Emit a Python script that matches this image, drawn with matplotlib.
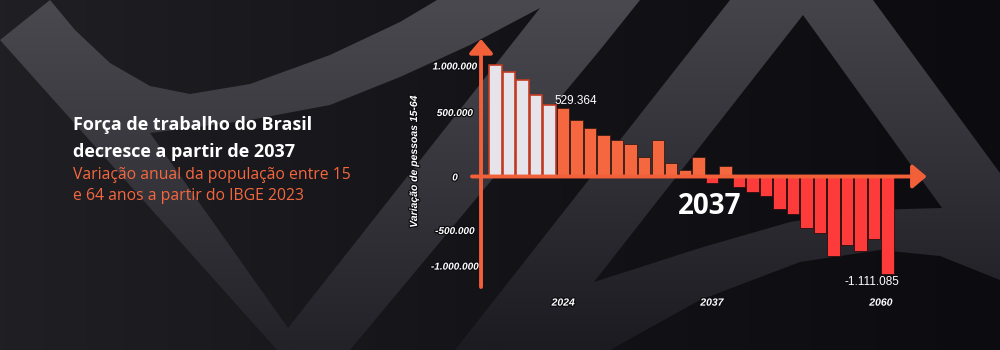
import numpy as np
import matplotlib
matplotlib.use('Agg')
import matplotlib.pyplot as plt
from matplotlib.path import Path
from matplotlib.patches import PathPatch
from matplotlib.colors import LinearSegmentedColormap
import matplotlib.patheffects as pe

# annual change of the 15-64 population (people), IBGE 2023 projection
n_hist = 5  # first bars are already observed (light bars)
values = [1010000, 923000, 842000, 677000, 570000,
          529364, 439000, 374000, 318000, 284000, 253000, 155000, 284000,
          103000, 52000, 155000, -63000, 81000,
          -98000, -145000, -182000, -308000, -346000, -477000, -549000,
          -872000, -711000, -788000, -626000, -1111085]
labelled = [5, 29]  # bars with their value written
tick_years = ['2024', '2037', '2060']
tick_at = [5, 16, 28.5]
yticks = [1000000, 500000, 0, -500000, -1000000]

title = ['Força de trabalho do Brasil', 'decresce a partir de 2037']
subtitle = ['Variação anual da população entre 15', 'e 64 anos a partir do IBGE 2023']
ylabel = 'Variação de pessoas 15-64'

ORANGE = '#f4673f'
RED = '#fe3b3b'
LIGHT = '#e6e3eb'
AXIS = '#f2603a'


def fmt(v):
    return f'{v:,}'.replace(',', '.')


fig = plt.figure(figsize=(10, 3.5), dpi=100)

# ---- background with the big faint logo shapes (pixel coords, y down)
bg = fig.add_axes([0, 0, 1, 1])
bg.set_xlim(0, 1000)
bg.set_ylim(350, 0)
bg.axis('off')
bg_cmap = LinearSegmentedColormap.from_list('bg', ['#201f24', '#141318', '#0b0b10'])
bg.imshow(np.linspace(0, 1, 256).reshape(1, -1), extent=(0, 1000, 350, 0),
          cmap=bg_cmap, aspect='auto', zorder=0)


def signed_area(pts):
    p = np.array(pts)
    return 0.5 * np.sum(p[:, 0] * np.roll(p[:, 1], -1) - np.roll(p[:, 0], -1) * p[:, 1])


def shape(outer, hole, top, bottom):
    if signed_area(outer) * signed_area(hole) > 0:
        hole = hole[::-1]
    verts, codes = [], []
    for ring in (outer, hole):
        verts += list(ring) + [ring[0]]
        codes += [Path.MOVETO] + [Path.LINETO] * (len(ring) - 1) + [Path.CLOSEPOLY]
    patch = PathPatch(Path(verts, codes), fc='none', ec='none', transform=bg.transData)
    bg.add_patch(patch)
    cm = LinearSegmentedColormap.from_list('s', [top, bottom])
    im = bg.imshow(np.linspace(0, 1, 256).reshape(-1, 1), extent=(0, 1000, 350, 0),
                   cmap=cm, aspect='auto', zorder=1)
    im.set_clip_path(patch)


v_outer = [(50, 0), (75, 30), (110, 63), (150, 86), (190, 94), (250, 84), (330, 55),
           (400, 22), (437, 0), (640, 0), (600, 50), (350, 350), (277, 350), (0, 40)]
v_hole = [(150, 133), (288, 328), (540, 8), (470, 45), (400, 77), (330, 105),
          (250, 120), (190, 128)]
shape(v_outer, v_hole, '#4b4950', '#232228')

a_outer = [(455, 350), (730, 0), (873, 0), (1000, 173), (1000, 280), (940, 256),
           (880, 250), (800, 262), (700, 300), (610, 350)]
a_hole = [(803, 15), (594, 282), (700, 248), (790, 222), (870, 210), (942, 208)]
shape(a_outer, a_hole, '#45444a', '#1c1b21')

# ---- titles
for line, base in zip(title, (130, 157)):
    fig.text(0.073, 1 - base / 350, line, color='white', fontsize=13,
             fontweight='bold', family='Open Sans', va='baseline')
for line, base in zip(subtitle, (179, 200)):
    fig.text(0.073, 1 - base / 350, line, color=ORANGE, fontsize=11.3,
             family='Open Sans', va='baseline')

# ---- chart
ax = fig.add_axes([0.472, 60 / 350, 0.458, 253 / 350])
ax.patch.set_alpha(0)
for s in ax.spines.values():
    s.set_visible(False)

# the infographic uses a compressed, uneven value axis
VK = [-5e6, -1111085, -500000, 0, 529364, 1000000, 5e6]
PK = [-373.8, -97, -53.5, 0, 68.3, 111, 473.9]
fwd = lambda v: np.interp(v, VK, PK)
inv = lambda p: np.interp(p, PK, VK)
ax.set_yscale('function', functions=(fwd, inv))
ax.set_ylim(inv(-113.5), inv(139.5))
ax.set_xlim(-1.738, 32.14)

x = np.arange(len(values))
colors, edges, lws = [], [], []
for i, v in enumerate(values):
    if i < n_hist:
        colors.append(LIGHT); edges.append('#c23b22'); lws.append(1.2)
    elif v >= 0:
        colors.append(ORANGE); edges.append('#3a1c14'); lws.append(0.6)
    else:
        colors.append(RED); edges.append('#2a0e0e'); lws.append(0.6)
ax.bar(x, values, width=0.92, color=colors, edgecolor=edges, linewidth=lws, zorder=2)

arrow = dict(arrowstyle='-|>,head_length=0.65,head_width=0.55', color=AXIS, lw=2.8,
             mutation_scale=13, shrinkA=0, shrinkB=0)
ax.annotate('', xy=(31.9, 0), xytext=(-1.74, 0), arrowprops=arrow,
            annotation_clip=False, zorder=3)
ax.annotate('', xy=(-1.07, inv(137.5)), xytext=(-1.07, inv(-110.5)), arrowprops=arrow,
            annotation_clip=False, zorder=3)

# value labels
i = labelled[0]
ax.annotate(fmt(values[i]), xy=(x[i] - 0.5, values[i]), xytext=(-1, 1),
            textcoords='offset points', ha='left', va='bottom', color='white',
            fontsize=8.5, family='Liberation Sans', zorder=5)
i = labelled[1]
ax.annotate(fmt(values[i]), xy=(x[i] + 0.5, values[i]), xytext=(4, -2),
            textcoords='offset points', ha='right', va='top', color='white',
            fontsize=8.5, family='Liberation Sans', zorder=5)

outline = [pe.withStroke(linewidth=1.8, foreground='#0e0d12')]
ax.set_yticks(yticks, [fmt(v) for v in yticks])
ax.minorticks_off()
ax.tick_params(axis='y', length=0, pad=12.2, labelcolor='white')
for t in ax.get_yticklabels():
    t.set_ha('center')
    t.set_fontsize(7.2)
    t.set_fontfamily('Liberation Sans')
    t.set_fontweight('bold')
    t.set_fontstyle('italic')
    t.set_path_effects(outline)
ax.set_xticks(tick_at, tick_years)
ax.tick_params(axis='x', length=0, pad=5.5, labelcolor='white')
for t in ax.get_xticklabels():
    t.set_fontsize(7.5)
    t.set_fontfamily('Liberation Sans')
    t.set_fontweight('bold')
    t.set_fontstyle('italic')
    t.set_path_effects(outline)

fig.text(0.414, 1 - 162 / 350, ylabel, rotation=90, ha='center', va='center',
         color='white', fontsize=7.5, family='Liberation Sans', fontweight='bold',
         fontstyle='italic', path_effects=outline)

fig.text(0.710, 1 - 207 / 350, '2037', ha='center', va='center', color='white',
         fontsize=20, fontweight='bold', family='Open Sans')

fig.savefig('out.png', dpi=100, facecolor='#141318')
